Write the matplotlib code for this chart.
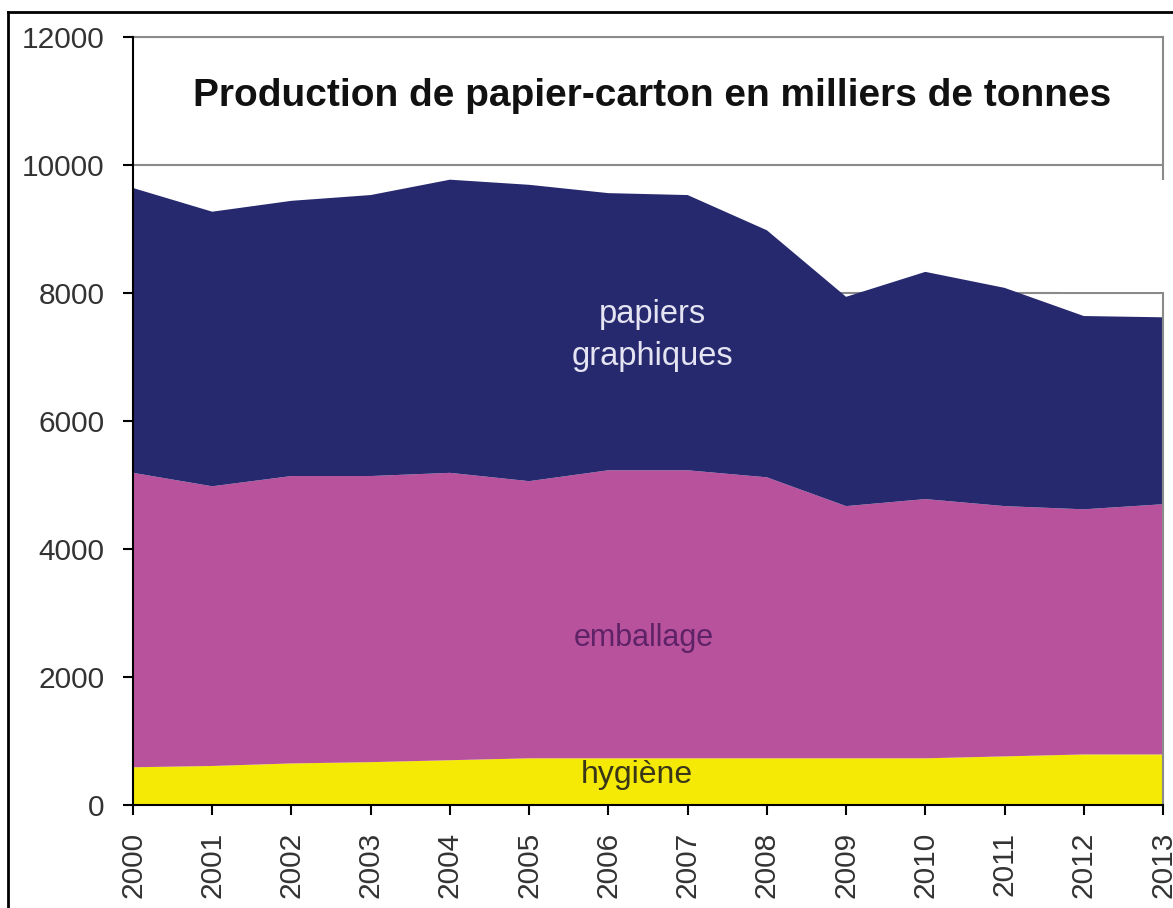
import numpy as np
import matplotlib
matplotlib.use("Agg")
import matplotlib.pyplot as plt
from matplotlib.lines import Line2D
from matplotlib.patches import Rectangle

plt.rcParams['font.family'] = ['Liberation Sans', 'DejaVu Sans']

# production en milliers de tonnes, par année
years = np.arange(2000, 2014)
hygiene = [590, 610, 650, 670, 700, 730, 730, 730, 730, 730, 730, 760, 790, 790]
emballage = [4600, 4370, 4490, 4470, 4490, 4330, 4500, 4500, 4390, 3940, 4050, 3910, 3830, 3910]
graphiques = [4450, 4290, 4300, 4390, 4580, 4630, 4330, 4300, 3860, 3270, 3550, 3410, 3020, 2920]

yticks = [0, 2000, 4000, 6000, 8000, 10000, 12000]
title = "Production de papier-carton en milliers de tonnes"

col_hyg = '#f4ea06'
col_emb = '#b9529d'
col_gra = '#27296f'

fig = plt.figure(figsize=(11.73, 9.08), dpi=100)
ax = fig.add_axes([0.1134, 0.1134, 0.8781, 0.8459])

ax.stackplot(years, hygiene, emballage, graphiques,
             colors=[col_hyg, col_emb, col_gra], linewidth=0, zorder=2)

ax.set_xlim(2000, 2013)
ax.set_ylim(0, 12000)
ax.set_yticks(yticks)
ax.set_xticks(years)
ax.set_xticklabels([str(y) for y in years], rotation=90)
ax.yaxis.grid(True, color='#8a8a8a', linewidth=1.5, zorder=1)
ax.set_axisbelow(True)

ax.tick_params(axis='y', direction='out', length=7.5, width=1.5,
               pad=13, labelsize=21.5, labelcolor='#333333')
ax.tick_params(axis='x', direction='out', length=7.5, width=1.5,
               pad=12, labelsize=21.5, labelcolor='#333333')

for side in ['left', 'bottom']:
    ax.spines[side].set_color('black')
    ax.spines[side].set_linewidth(1.5)
    ax.spines[side].set_zorder(3)
for side in ['top', 'right']:
    ax.spines[side].set_color('#8a8a8a')
    ax.spines[side].set_linewidth(1.5)

# white block on the right side above the areas
ax.add_patch(Rectangle((2011.7, 8020), 1.6, 1740, facecolor='white',
                       edgecolor='none', zorder=4, clip_on=False))

ax.text(2006.55, 11080, title, ha='center', va='center',
        fontsize=28, fontweight='bold', color='#111111', zorder=5)

ax.text(2006.55, 7660, "papiers", ha='center', va='center',
        fontsize=23.5, color='#e4e4f2', zorder=5)
ax.text(2006.55, 7000, "graphiques", ha='center', va='center',
        fontsize=23.5, color='#e4e4f2', zorder=5)
ax.text(2006.45, 2610, "emballage", ha='center', va='center',
        fontsize=22, color='#5e2266', zorder=5)
ax.text(2006.36, 470, "hygiène", ha='center', va='center',
        fontsize=23, color='#3a3618', zorder=5)

# outer frame around the chart
x0 = 8 / 1173
y1 = 1 - 12 / 908
fig.add_artist(Line2D([x0, x0], [0, y1], color='black', linewidth=2))
fig.add_artist(Line2D([x0, 1], [y1, y1], color='black', linewidth=2))

fig.savefig("out.png", dpi=100, facecolor='white')
